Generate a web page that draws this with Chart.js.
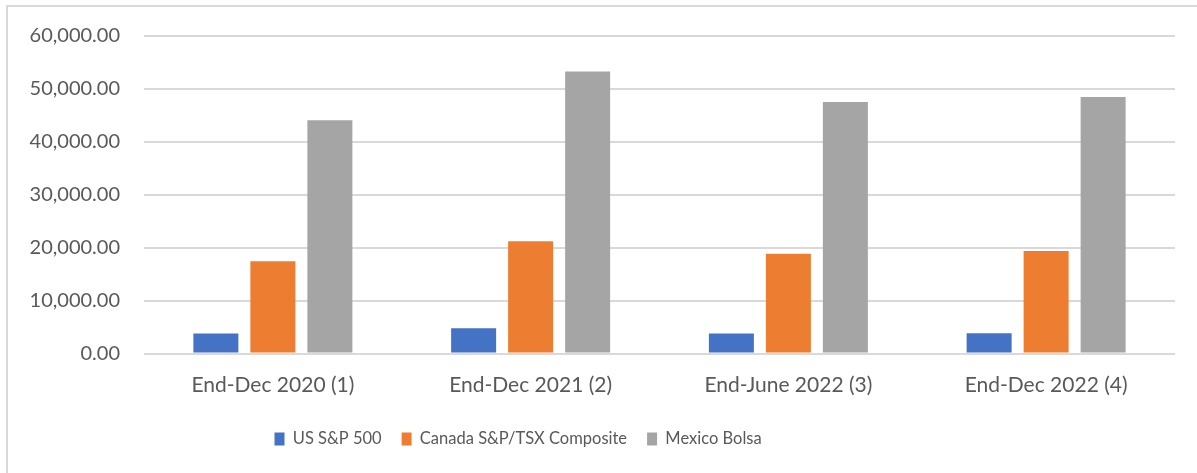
<!DOCTYPE html>
<html>
<head>
<meta charset="utf-8">
<script src="https://cdn.jsdelivr.net/npm/chart.js@4"></script>
<style>
  html, body { margin: 0; padding: 0; background: #fff; overflow: hidden; }
  #frame { position: absolute; left: 6px; top: 5px; border: 2px solid #d9d9d9; }
  #indexChart { display: block; }
</style>
</head>
<body>
<div id="frame">
  <canvas id="indexChart" width="1200" height="490"></canvas>
</div>
<script>
// index levels at each period end
const periods = ['End-Dec 2020 (1)', 'End-Dec 2021 (2)', 'End-June 2022 (3)', 'End-Dec 2022 (4)'];
const usSP500 = [3756, 4766, 3785, 3839];
const canadaTSX = [17433, 21223, 18861, 19385];
const mexicoBolsa = [44067, 53272, 47524, 48464];
const yTicks = [0, 10000, 20000, 30000, 40000, 50000, 60000];

Chart.defaults.font.family = 'Lato';
Chart.defaults.font.size = 21;
Chart.defaults.color = '#595959';

// move the legend row off the centre line
const legendNudge = {
    id: 'legendNudge',
    afterLayout: (chart) => {
        chart.legend.left += 246.5;
        chart.legend.right += 246.5;
    }
};

const ctx = document.getElementById('indexChart').getContext('2d');
const myChart = new Chart(ctx, {
    type: 'bar',
    data: {
        labels: periods,
        datasets: [
            { label: 'US S&P 500', data: usSP500, backgroundColor: '#4472c4' },
            { label: 'Canada S&P/TSX Composite', data: canadaTSX, backgroundColor: '#ed7d31' },
            { label: 'Mexico Bolsa', data: mexicoBolsa, backgroundColor: '#a5a5a5' }
        ]
    },
    options: {
        responsive: false,
        animation: false,
        categoryPercentage: 0.6634,
        barPercentage: 0.7895,
        layout: { padding: { top: 29, right: 33, bottom: 39.75, left: 0 } },
        plugins: {
            tooltip: { enabled: false },
            legend: {
                position: 'bottom',
                align: 'start',
                labels: { boxWidth: 10, boxHeight: 13, padding: 20, font: { size: 16.5 } }
            }
        },
        scales: {
            x: {
                grid: { display: false, drawTicks: false },
                border: { display: false },
                ticks: { padding: 19 },
                afterFit: (scale) => { scale.height = 57.25; }
            },
            y: {
                min: 0,
                max: 60000,
                grid: { color: '#d9d9d9', lineWidth: 2, drawTicks: false },
                border: { display: false },
                afterBuildTicks: (scale) => { scale.ticks = yTicks.map(v => ({ value: v })); },
                ticks: {
                    padding: 24,
                    font: { size: 20 },
                    callback: (v) => v.toLocaleString('en-US', { minimumFractionDigits: 2, maximumFractionDigits: 2 })
                },
                afterFit: (scale) => {
                    scale.width = 136;
                    // the tick padding should not push the plot down
                    scale.paddingTop = 0;
                    scale.paddingBottom = 0;
                }
            }
        }
    },
    plugins: [legendNudge]
});
</script>
</body>
</html>
